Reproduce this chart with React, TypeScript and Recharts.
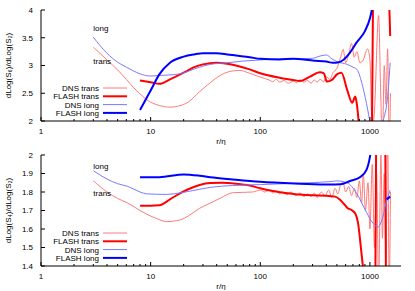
import React from 'react';
import {
  LineChart,
  Line,
  XAxis,
  YAxis,
  ReferenceDot,
} from 'recharts';

// [r/eta, value] pairs
const dnsTransTop = [
  [3, 3.33], [4, 3.1], [5, 2.92], [6, 2.75], [7, 2.6], [8, 2.49], [9, 2.4], [10, 2.34],
  [12, 2.28], [15, 2.25], [18, 2.27], [22, 2.34], [28, 2.53], [35, 2.69], [43, 2.82],
  [55, 2.9], [65, 2.91], [80, 2.86], [100, 2.79], [120, 2.74], [130, 2.71], [140, 2.75],
  [150, 2.7], [165, 2.73], [180, 2.68], [200, 2.72], [215, 2.69], [230, 2.74], [250, 2.7],
  [270, 2.73], [290, 2.68], [310, 2.74], [330, 2.7], [350, 2.75], [380, 2.71], [400, 2.8],
  [430, 2.75], [460, 2.87], [500, 2.95], [540, 3.15], [570, 3.29], [600, 3.05], [640, 3.2],
  [680, 3.4], [720, 3.15], [760, 3.25], [810, 3.05], [870, 3.1], [920, 3.25], [950, 3.3],
  [1000, 3.1], [1050, 1.8], [1100, 2.2], [1200, 3.9], [1250, 2.6], [1300, 1.6], [1350, 3.0],
  [1400, 2.3], [1450, 3.3], [1500, 1.6], [1540, 2.5],
];
const flashTransTop = [
  [8, 2.73], [10, 2.7], [12, 2.67], [15, 2.75], [20, 2.87], [25, 2.97], [30, 3.02], [40, 3.05],
  [50, 3.03], [60, 3.0], [80, 2.93], [100, 2.86], [150, 2.78], [200, 2.74], [230, 2.72],
  [284, 2.8], [350, 2.88], [380, 2.86], [405, 2.71], [450, 2.74], [500, 2.84], [550, 2.87],
  [620, 2.56], [690, 2.33], [735, 2.44], [760, 2.3], [800, 1.9], [950, 1.4], [1040, 1.5],
  [1070, 4.5], [1200, 5], [1480, 4.3], [1530, 3.53],
];
const dnsLongTop = [
  [3, 3.51], [4, 3.22], [5, 3.06], [6, 2.97], [7, 2.9], [8, 2.85], [9, 2.82], [10, 2.81],
  [12, 2.82], [15, 2.83], [18.5, 2.85], [28, 2.97], [35, 3.02], [50, 3.05], [70, 3.08],
  [100, 3.1], [150, 3.12], [200, 3.12], [300, 3.13], [350, 3.17], [400, 3.19], [450, 3.12],
  [500, 3.07], [620, 3.02], [700, 2.97], [760, 2.93], [860, 2.62], [955, 2.2], [1020, 1.9],
  [1150, 1.6], [1320, 2.0], [1450, 2.44], [1530, 3.05],
];
const flashLongTop = [
  [8, 2.2], [10, 2.55], [12, 2.84], [15, 3.05], [20, 3.16], [25, 3.2], [30, 3.22], [40, 3.22],
  [50, 3.2], [60, 3.18], [80, 3.15], [100, 3.12], [150, 3.11], [200, 3.12], [250, 3.11],
  [300, 3.09], [400, 3.07], [460, 3.05], [520, 3.06], [570, 3.1], [650, 3.22], [760, 3.42],
  [900, 3.62], [1000, 3.85], [1040, 4.0], [1080, 4.2],
];

const dnsTransBottom = [
  [3, 1.861], [4, 1.8], [5, 1.765], [6.2, 1.74], [8, 1.7], [9.2, 1.68], [11, 1.66], [14, 1.64],
  [18.5, 1.649], [22, 1.67], [28, 1.712], [35, 1.74], [43, 1.766], [56, 1.796], [85, 1.8],
  [100, 1.81], [110, 1.8], [120, 1.81], [130, 1.795], [140, 1.805], [150, 1.79], [160, 1.8],
  [175, 1.785], [190, 1.8], [210, 1.78], [230, 1.795], [250, 1.775], [270, 1.79], [290, 1.775],
  [310, 1.795], [330, 1.77], [360, 1.8], [390, 1.78], [420, 1.81], [450, 1.77], [480, 1.82],
  [510, 1.79], [540, 1.84], [570, 1.85], [600, 1.8], [640, 1.83], [680, 1.78], [720, 1.82],
  [760, 1.77], [800, 1.86], [840, 1.74], [870, 1.9], [910, 1.7], [960, 1.85], [1000, 1.6],
  [1050, 1.95], [1100, 1.5], [1150, 1.9], [1200, 1.3], [1260, 2.0], [1300, 1.55], [1350, 1.9],
  [1400, 1.45], [1450, 2.1], [1500, 1.3], [1540, 1.8],
];
const flashTransBottom = [
  [8, 1.726], [10, 1.726], [12, 1.728], [15, 1.76], [18.5, 1.793], [22, 1.815], [28, 1.838],
  [35, 1.848], [45, 1.85], [60, 1.845], [80, 1.835], [100, 1.82], [130, 1.805], [170, 1.795],
  [230, 1.786], [300, 1.782], [400, 1.78], [480, 1.775], [530, 1.76], [580, 1.735],
  [620, 1.715], [690, 1.7], [740, 1.68], [780, 1.63], [830, 1.49], [870, 1.38], [1000, 1.2],
  [1120, 1.3], [1140, 2.1], [1180, 2.2], [1380, 2.1], [1400, 1.3],
];
const dnsLongBottom = [
  [3, 1.915], [4, 1.87], [5, 1.845], [6.2, 1.83], [8, 1.8], [9.2, 1.79], [14, 1.787],
  [18.5, 1.795], [28, 1.815], [35, 1.825], [56, 1.835], [100, 1.84], [230, 1.848],
  [430, 1.856], [500, 1.86], [620, 1.85], [760, 1.79], [930, 1.69], [1070, 1.63],
  [1180, 1.61], [1310, 1.665], [1400, 1.74], [1530, 1.81],
];
const flashLongBottom = [
  [8, 1.88], [12, 1.88], [20, 1.895], [28, 1.888], [35, 1.88], [56, 1.868], [100, 1.855],
  [230, 1.845], [430, 1.84], [540, 1.842], [650, 1.858], [810, 1.88], [930, 1.92],
  [1000, 1.99], [1060, 2.1], [1200, null], [1420, 1.76], [1530, 1.775],
];

const xTicks = [
  1, 2, 3, 4, 5, 6, 7, 8, 9, 10, 20, 30, 40, 50, 60, 70, 80, 90,
  100, 200, 300, 400, 500, 600, 700, 800, 900, 1000,
];
const xMajor = [1, 10, 100, 1000];
const yTicksTop = [2, 2.5, 3, 3.5, 4];
const yTicksBottom = [1.4, 1.5, 1.6, 1.7, 1.8, 1.9, 2];

const seriesNames = ['DNS trans', 'FLASH trans', 'DNS long', 'FLASH long'];
const seriesColors = ['#ff7a7a', '#ff0000', '#7a7aff', '#0000ff'];
const seriesWidths = [1, 2, 1, 2];

const FONT = '"Liberation Sans", Arial, sans-serif';

const toPoints = (pairs: (number | null)[][]) =>
  pairs.map(([r, v]) => ({ r, v }));

const XTick = (props: any) => {
  const { x, y, payload, side } = props;
  const major = xMajor.includes(payload.value);
  const len = major ? 4 : 2;
  const dir = side === 'top' ? 1 : -1;
  return (
    <g>
      <line x1={x} x2={x} y1={y} y2={y + dir * len} stroke="#000" strokeWidth={1} />
      {side === 'bottom' && major && (
        <text x={x} y={y + 13} textAnchor="middle" fontSize={8} fontFamily={FONT} fill="#000">
          {payload.value}
        </text>
      )}
    </g>
  );
};

const LegendBox = () => (
  <svg width={100} height={36} style={{ display: 'block' }}>
    {seriesNames.map((name, i) => {
      const cy = 6 + i * 8.3;
      return (
        <g key={name}>
          <text x={69} y={cy + 3} textAnchor="end" fontSize={8} fontFamily={FONT} fill="#000">
            {name}
          </text>
          <line x1={73} x2={97} y1={cy} y2={cy} stroke={seriesColors[i]} strokeWidth={seriesWidths[i]} />
        </g>
      );
    })}
  </svg>
);

type PanelProps = {
  series: (number | null)[][][];
  yDomain: number[];
  yTicks: number[];
  yLabel: string;
  longAt: number;
  transAt: number;
};

const Panel = ({ series, yDomain, yTicks, yLabel, longAt, transAt }: PanelProps) => (
  <div style={{ position: 'relative', width: 415, height: 145 }}>
    <LineChart
      width={415}
      height={145}
      margin={{ top: 10, right: 14, left: 0, bottom: 0 }}
    >
      <XAxis
        dataKey="r"
        type="number"
        scale="log"
        domain={[1, 1920]}
        allowDataOverflow
        ticks={xTicks}
        interval={0}
        height={24}
        stroke="#000"
        tickLine={false}
        tickSize={0}
        tickMargin={0}
        tick={<XTick side="bottom" />}
        label={{ value: 'r/η', position: 'insideBottom', offset: 1, fontSize: 8, fontFamily: FONT, fill: '#000' }}
      />
      <XAxis
        xAxisId="top"
        orientation="top"
        dataKey="r"
        type="number"
        scale="log"
        domain={[1, 1920]}
        allowDataOverflow
        ticks={xTicks}
        interval={0}
        height={0}
        stroke="#000"
        tickLine={false}
        tickSize={0}
        tickMargin={0}
        tick={<XTick side="top" />}
      />
      <YAxis
        type="number"
        domain={yDomain}
        ticks={yTicks}
        allowDataOverflow
        interval={0}
        width={41}
        stroke="#000"
        tickSize={-4}
        tickMargin={12}
        tick={{ fontSize: 8, fontFamily: FONT, fill: '#000' }}
        label={{
          value: yLabel,
          angle: -90,
          position: 'insideLeft',
          offset: 8,
          fontSize: 8,
          fontFamily: FONT,
          fill: '#000',
          style: { textAnchor: 'middle' },
        }}
      />
      <YAxis
        yAxisId="right"
        orientation="right"
        type="number"
        domain={yDomain}
        ticks={yTicks}
        allowDataOverflow
        interval={0}
        width={0}
        stroke="#000"
        tickSize={-4}
        tick={false}
      />
      {series.map((pairs, i) => (
        <Line
          key={seriesNames[i]}
          data={toPoints(pairs)}
          dataKey="v"
          type="monotone"
          stroke={seriesColors[i]}
          strokeWidth={seriesWidths[i]}
          dot={false}
          isAnimationActive={false}
        />
      ))}
      <ReferenceDot
        x={3}
        y={longAt}
        r={0}
        fill="none"
        stroke="none"
        label={{ value: 'long', position: 'right', offset: 0, fontSize: 8, fontFamily: FONT, fill: '#000' }}
      />
      <ReferenceDot
        x={3}
        y={transAt}
        r={0}
        fill="none"
        stroke="none"
        label={{ value: 'trans', position: 'right', offset: 0, fontSize: 8, fontFamily: FONT, fill: '#000' }}
      />
    </LineChart>
    <div style={{ position: 'absolute', left: 30, top: 82 }}>
      <LegendBox />
    </div>
  </div>
);

export default function App() {
  return (
    <div style={{ position: 'absolute', left: 0, top: 0, width: 415, height: 291, background: '#fff' }}>
      <div style={{ position: 'absolute', left: 0, top: 0 }}>
        <Panel
          series={[dnsTransTop, flashTransTop, dnsLongTop, flashLongTop]}
          yDomain={[2, 4]}
          yTicks={yTicksTop}
          yLabel="dLog(S₆)/dLog(S₂)"
          longAt={3.67}
          transAt={3.07}
        />
      </div>
      <div style={{ position: 'absolute', left: 0, top: 145 }}>
        <Panel
          series={[dnsTransBottom, flashTransBottom, dnsLongBottom, flashLongBottom]}
          yDomain={[1.4, 2]}
          yTicks={yTicksBottom}
          yLabel="dLog(S₄)/dLog(S₂)"
          longAt={1.94}
          transAt={1.795}
        />
      </div>
    </div>
  );
}
